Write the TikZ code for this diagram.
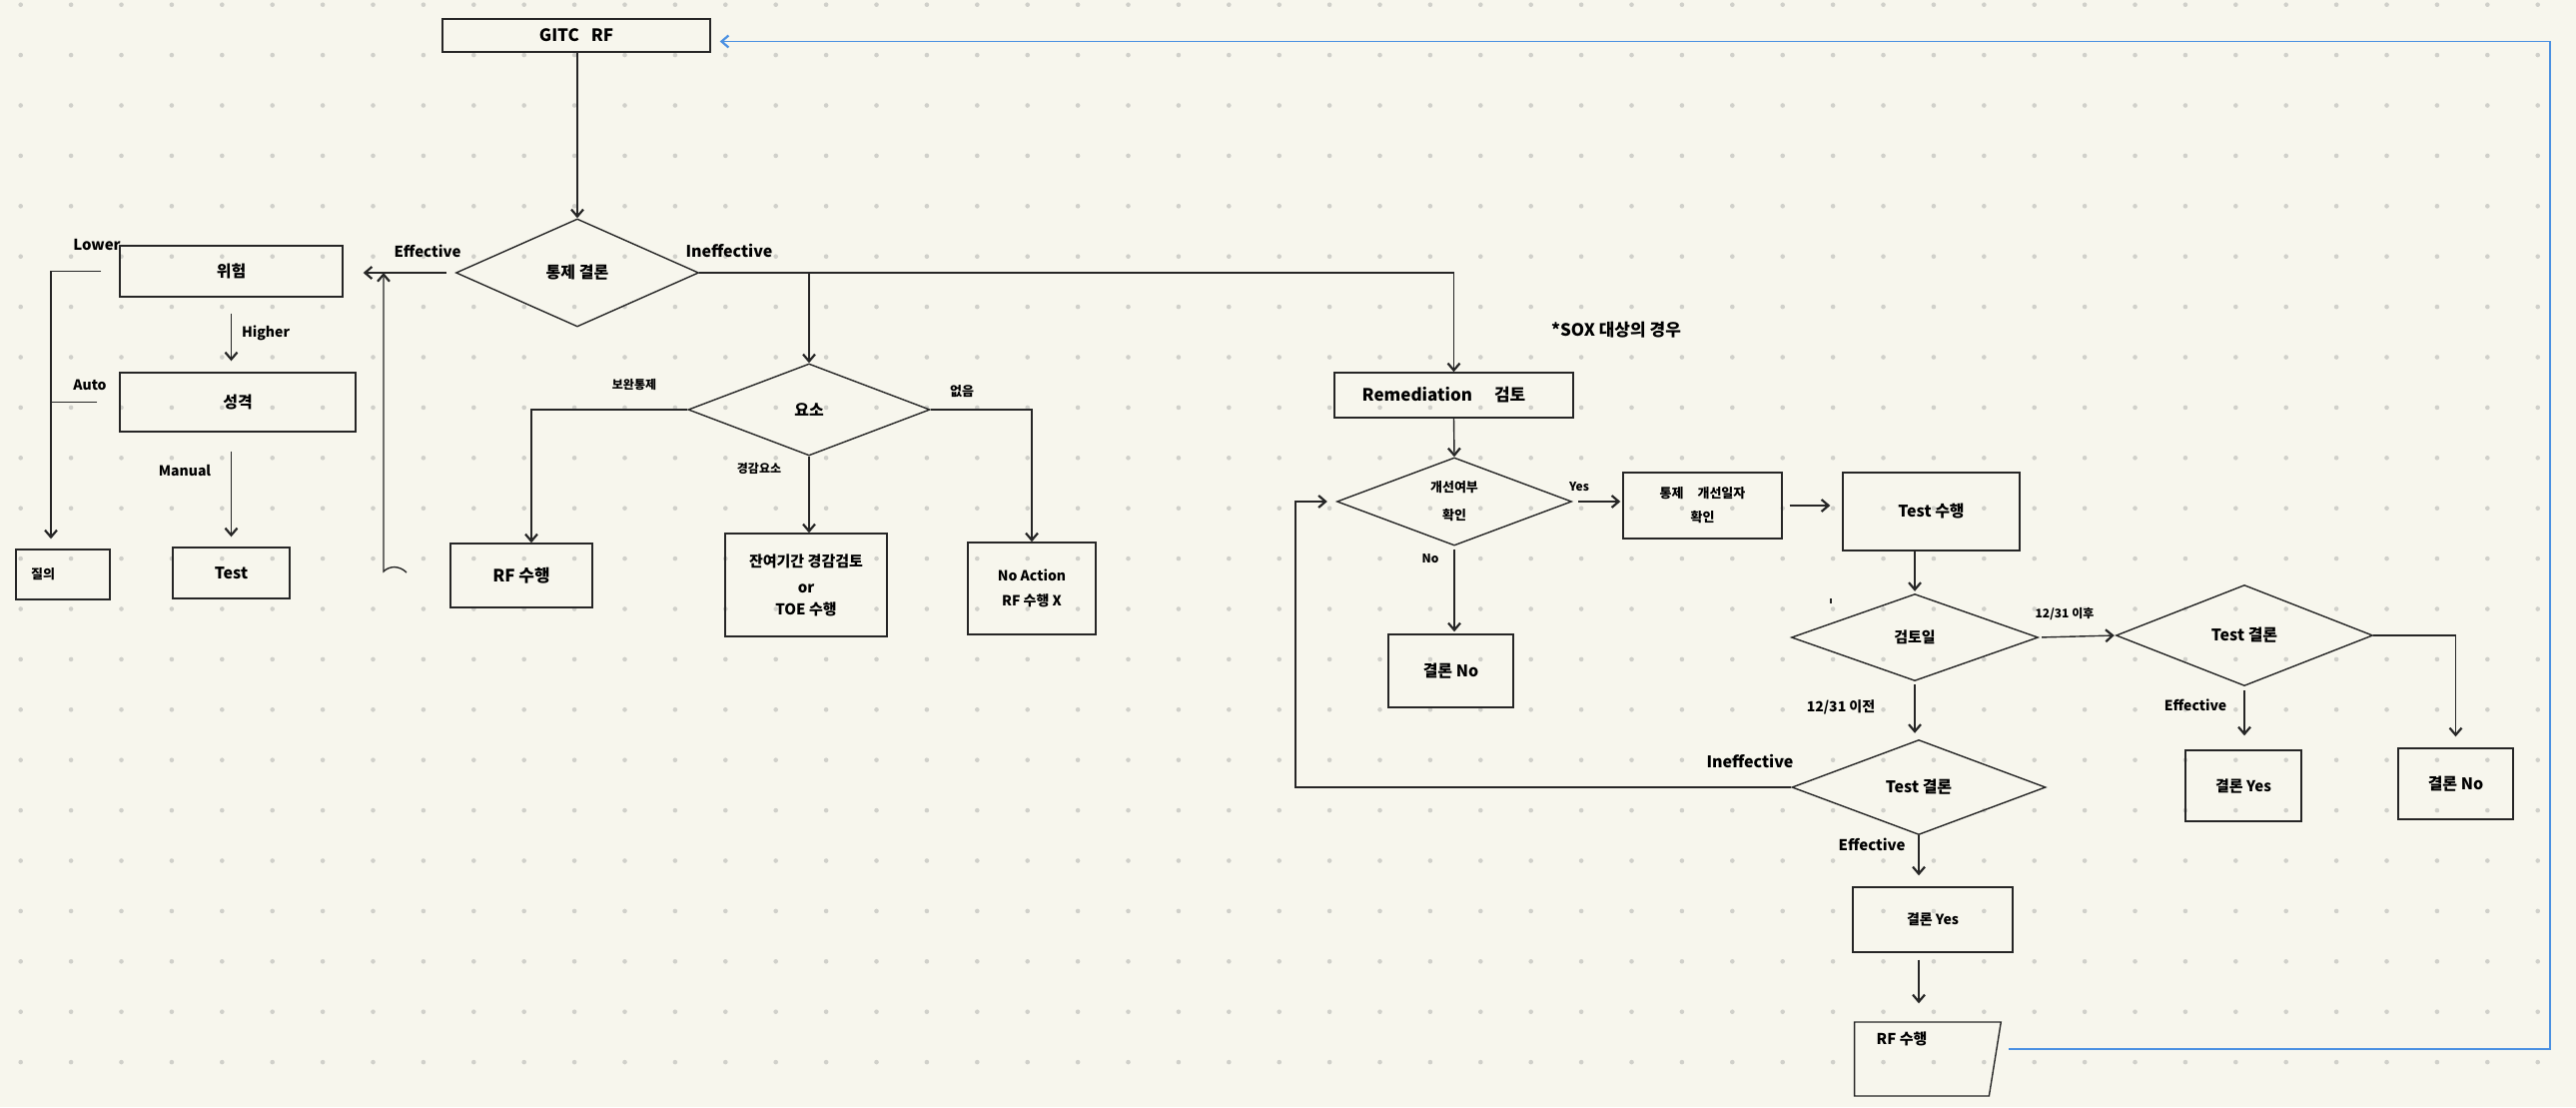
\documentclass[tikz,border=0pt]{standalone}
\usepackage{fontspec}
\setmainfont{Noto Sans CJK KR}
\usetikzlibrary{arrows.meta,shapes.geometric}
\definecolor{paper}{RGB}{247,246,237}
\definecolor{griddot}{RGB}{208,208,202}
\definecolor{ink}{RGB}{38,38,38}
\definecolor{loopblue}{RGB}{74,144,226}
\newcommand{\hw}[1]{\fontsize{#1}{#1}\selectfont\bfseries}

\begin{document}
\begin{tikzpicture}[x=1pt,y=-1pt,>={Straight Barb[length=7pt,width=12pt,line width=2.2pt]},
  box/.style={draw=ink,line width=1.4pt,rectangle,inner sep=0pt,text=black,align=center,font=\hw{15}},
  decision/.style={draw=ink,line width=1.4pt,diamond,inner sep=0pt,text=black,align=center,font=\hw{15}},
  lbl/.style={inner sep=0pt,text=black,font=\hw{13}},
  flow/.style={draw=ink,line width=1.4pt}]
  \fill[paper] (0,0) rectangle (2579,1108);
  \useasboundingbox (0,0) rectangle (2579,1108);
  \foreach \i in {0,...,50}
    \foreach \j in {0,...,21}
      \fill[griddot] (20.7+50.4*\i,4.7+50.4*\j) circle (2.3pt);

  \node[box,minimum width=268pt,minimum height=33pt,font=\hw{17}] (gitc) at (577,35.5) {GITC\hspace{12pt}RF};
  \node[decision,minimum width=243pt,minimum height=108pt,font=\hw{16}] (ctl) at (578,273) {통제 결론};

  \node[box,minimum width=223pt,minimum height=51pt,font=\hw{16}] (risk) at (231.5,271.5) {위험};
  \node[box,minimum width=236pt,minimum height=59pt,font=\hw{16}] (nature) at (238,402.5) {성격};
  \node[box,minimum width=94pt,minimum height=50pt,font=\hw{13}] (inq) at (63,575) {\hspace*{-40pt}질의};
  \node[box,minimum width=117pt,minimum height=51pt,font=\hw{16}] (testl) at (231.5,573.5) {Test};

  \node[decision,minimum width=242pt,minimum height=92pt,font=\hw{16}] (elem) at (810,410) {요소};
  \node[box,minimum width=142pt,minimum height=64pt,font=\hw{17}] (rfl) at (522,576) {RF 수행};
  \node[box,minimum width=162pt,minimum height=103pt] (resid) at (807,585.5) {잔여기간 경감검토\\[11pt]or\\[7pt]TOE 수행};
  \node[box,minimum width=128pt,minimum height=92pt,font=\hw{14}] (noact) at (1033,589) {No Action\\[11pt]RF 수행 X};

  \node[box,minimum width=239pt,minimum height=45pt,font=\hw{17}] (remed) at (1455.5,395.5) {Remediation\hspace{22pt}검토\hspace*{20pt}};
  \node[decision,minimum width=235pt,minimum height=83pt,font=\hw{13}] (chk) at (1456,502) {개선여부\\[15pt]확인};
  \node[box,minimum width=159pt,minimum height=66pt,font=\hw{13}] (fixdate) at (1704.5,506) {통제\hspace{14pt}개선일자\\[11pt]확인};
  \node[box,minimum width=125pt,minimum height=73pt,font=\hw{16}] (nol) at (1452.5,671.5) {결론 No};
  \node[box,minimum width=177pt,minimum height=78pt,font=\hw{16}] (testdo) at (1933.5,512) {Test 수행};
  \node[decision,minimum width=247pt,minimum height=87pt] (revdate) at (1917,638) {검토일};
  \node[decision,minimum width=257pt,minimum height=101pt,font=\hw{16}] (tres2) at (2247,636) {Test 결론};
  \node[box,minimum width=116pt,minimum height=71pt] (yes2) at (2246,786.5) {결론 Yes};
  \node[box,minimum width=115pt,minimum height=71pt,font=\hw{16}] (no2) at (2458.5,784.5) {결론 No};
  \node[decision,minimum width=254pt,minimum height=95pt,font=\hw{16}] (tres1) at (1921,788) {Test 결론};
  \node[box,minimum width=160pt,minimum height=65pt,font=\hw{14}] (yes1) at (1935,920.5) {결론 Yes};
  \node[box,trapezium,trapezium left angle=90,trapezium right angle=98.5,trapezium stretches=true,
    minimum width=147pt,minimum height=74pt,font=\hw{15}] (rfm) at (1924,1060) {RF 수행\hspace*{40pt}\\[26pt]};

  \node[lbl,font=\hw{15}] (lbleffa) at (428,251) {Effective};
  \node[lbl,font=\hw{16}] (lblineffa) at (730,251) {Ineffective};
  \node[lbl,font=\hw{15}] (lbllower) at (97,245) {Lower};
  \node[lbl,font=\hw{14}] (lblhigher) at (266,333) {Higher};
  \node[lbl,font=\hw{14}] (lblauto) at (90,385) {Auto};
  \node[lbl,font=\hw{14}] (lblmanual) at (185,471) {Manual};
  \node[lbl,font=\hw{12}] (lblcomp) at (635,385) {보완통제};
  \node[lbl] (lblnone) at (963,392) {없음};
  \node[lbl,font=\hw{12}] (lblmitig) at (760,469) {경감요소};
  \node[lbl,font=\hw{12}] (lblyes) at (1581,487) {Yes};
  \node[lbl,font=\hw{12}] (lblno) at (1432,559) {No};
  \node[lbl,font=\hw{17}] (sox) at (1618,330) {*SOX 대상의 경우};
  \node[lbl,font=\hw{12}] (lblafter) at (2067,615) {12/31 이후};
  \node[lbl,font=\hw{14}] (lblbefore) at (1843,708) {12/31 이전};
  \node[lbl,font=\hw{14}] (lbleffb) at (2198,706) {Effective};
  \node[lbl,font=\hw{15}] (lbleffc) at (1874,845) {Effective};
  \node[lbl,font=\hw{16}] (lblineffb) at (1752,762) {Ineffective};

  \coordinate (hookend) at (407,573);
  \coordinate (loopfoot) at (384,572);

  \draw[flow,->] (gitc.south -| ctl.north) -- (ctl.north);
  \draw[flow,->,shorten <=9pt,shorten >=20pt] (ctl.west) -- (ctl.west -| risk.east);
  \draw[flow,->] (hookend) .. controls (400,566) and (390,566) .. (loopfoot) -- (loopfoot |- ctl.west);
  \draw[flow,->,shorten <=18pt,shorten >=10pt] (risk.west) -| ([xshift=-12pt]inq.north);
  \draw[flow,shorten <=22pt] (nature.west) -- ([xshift=-12pt]nature.west -| inq.north);
  \draw[flow,->,shorten <=16pt,shorten >=11pt] (risk.south) -- (risk.south |- nature.north);
  \draw[flow,->,shorten <=19pt,shorten >=10pt] (nature.south -| testl.north) -- (testl.north);

  \draw[flow,->] (ctl.east) -| (remed.north);
  \draw[flow,->] (elem.north |- ctl.east) -- (elem.north);
  \draw[flow,->] (elem.west) -| ([xshift=10pt]rfl.north);
  \draw[flow,->] (elem.south) -- (elem.south |- resid.north);
  \draw[flow,->] (elem.east) -| (noact.north);

  \draw[flow,->] (remed.south) -- (chk.north);
  \draw[flow,->,shorten <=6pt,shorten >=2pt] (chk.east) -- (chk.east -| fixdate.west);
  \draw[flow,->,shorten <=3pt,shorten >=2pt] (chk.south) -- (chk.south |- nol.north);
  \draw[flow,->,shorten <=7pt,shorten >=12pt] (fixdate.east) -- (fixdate.east -| testdo.west);
  \draw[flow,->,shorten >=2pt] (revdate.north |- testdo.south) -- (revdate.north);
  \draw[flow,->,shorten <=3pt,shorten >=1pt] (revdate.east) -- (tres2.west);
  \draw[flow,->,shorten >=11pt] (tres2.east) -| (no2.north);
  \draw[flow,->,shorten <=4pt,shorten >=14pt] (tres2.south) -- (tres2.south |- yes2.north);
  \draw[flow,->,shorten <=3pt,shorten >=6pt] (revdate.south) -- (revdate.south |- tres1.north);
  \draw[flow,->,shorten >=9pt] (tres1.west) -- ([xshift=-41pt]tres1.west -| chk.west) |- (chk.west);
  \draw[flow,->,shorten >=11pt] (tres1.south) -- (tres1.south |- yes1.north);
  \draw[flow,->,shorten <=7pt,shorten >=18pt] (yes1.south -| tres1.south) -- (rfm.north -| tres1.south);
  \draw[loopblue,line width=1.8pt,->,shorten >=9pt] ([xshift=13pt,yshift=10pt]rfm.east) -- ++(542,0) |- ([yshift=-6pt]gitc.east);
  \draw[ink,line width=1.2pt] (1833,599) -- (1833,604);
\end{tikzpicture}
\end{document}
